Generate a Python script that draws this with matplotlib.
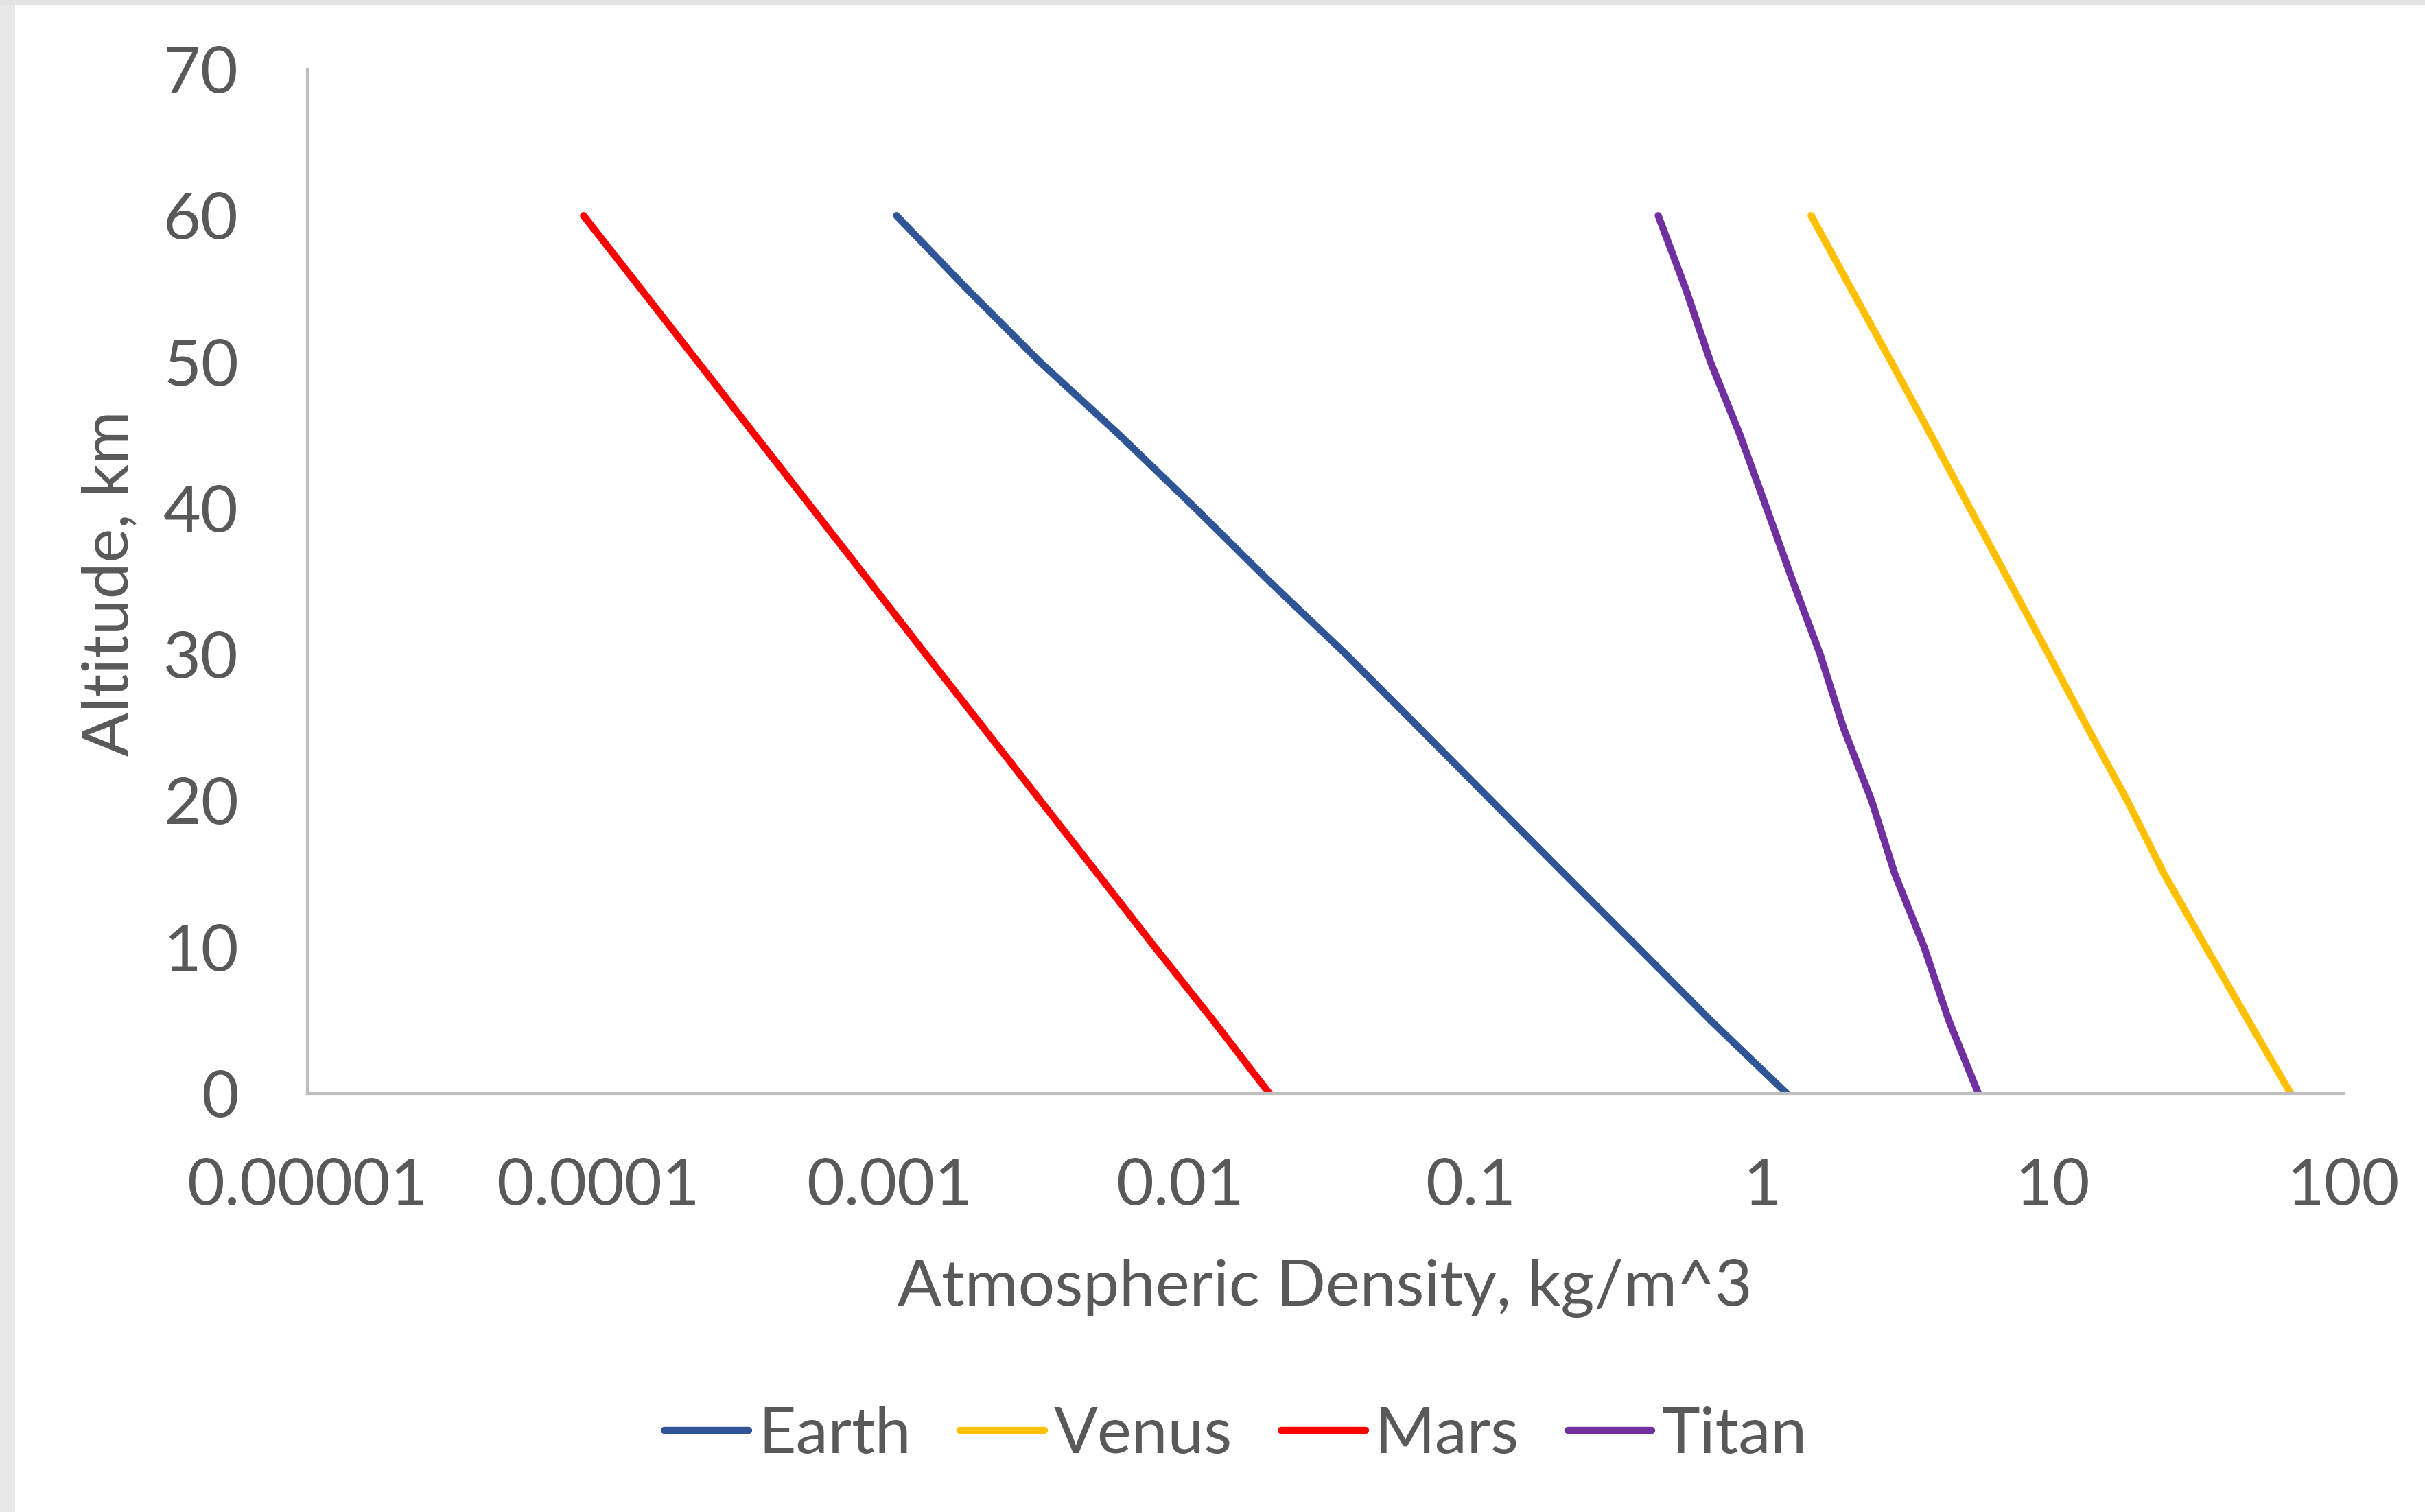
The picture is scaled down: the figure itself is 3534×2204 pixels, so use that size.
import numpy as np
import matplotlib
matplotlib.use('Agg')
import matplotlib.pyplot as plt
from matplotlib.patches import Rectangle

plt.rcParams['font.family'] = ['Lato', 'DejaVu Sans']

# Datos
altitude = [0, 5, 10, 15, 20, 25, 30, 35, 40, 45, 50, 55, 60]
earth = [1.22, 0.667, 0.375, 0.210, 0.118, 0.0664, 0.0373, 0.0203, 0.0113, 0.0062, 0.0033, 0.00185, 0.00106]
venus = [65.9, 47.1, 33.7, 24.2, 18.1, 13.2, 9.7, 7.1, 5.2, 3.82, 2.79, 2.03, 1.48]
mars = [0.0203, 0.0130, 0.0082, 0.00522, 0.00332, 0.00211, 0.00134, 0.000855, 0.000544, 0.000346, 0.000220, 0.000140, 0.000089]
titan = [5.56, 4.40, 3.62, 2.87, 2.39, 1.91, 1.59, 1.28, 1.04, 0.843, 0.667, 0.548, 0.441]

x_ticks = [1e-5, 1e-4, 1e-3, 1e-2, 1e-1, 1, 10, 100]
x_ticklabels = ['0.00001', '0.0001', '0.001', '0.01', '0.1', '1', '10', '100']
y_ticks = [0, 10, 20, 30, 40, 50, 60, 70]

text_col = '#595959'
axis_col = '#BFBFBF'
fs = 68

fig = plt.figure(figsize=(35.34, 22.04), dpi=100)
fig.patch.set_facecolor('white')

# borde gris del fondo (diapositiva)
fig.patches.append(Rectangle((0, 0), 22 / 3534, 1, transform=fig.transFigure,
                             facecolor='#e8e8e8', edgecolor='none', zorder=0))
fig.patches.append(Rectangle((0, 1 - 7 / 2204), 1, 7 / 2204, transform=fig.transFigure,
                             facecolor='#e3e3e3', edgecolor='none', zorder=0))

ax = fig.add_axes([0.12677, 0.27677, 0.83956, 0.67740])

lw = 7.5
ax.plot(earth, altitude, color='#2F5597', lw=lw, label='Earth', solid_capstyle='round', solid_joinstyle='round')
ax.plot(venus, altitude, color='#FFC000', lw=lw, label='Venus', solid_capstyle='round', solid_joinstyle='round')
ax.plot(mars, altitude, color='#FF0000', lw=lw, label='Mars', solid_capstyle='round', solid_joinstyle='round')
ax.plot(titan, altitude, color='#7030A0', lw=lw, label='Titan', solid_capstyle='round', solid_joinstyle='round')

ax.set_xscale('log')
ax.set_xlim(1e-5, 100)
ax.set_ylim(0, 70)
ax.set_xticks(x_ticks)
ax.set_xticklabels(x_ticklabels)
ax.xaxis.set_minor_locator(matplotlib.ticker.NullLocator())
ax.set_yticks(y_ticks)

ax.tick_params(axis='both', length=0, labelsize=fs, labelcolor=text_col)
ax.tick_params(axis='y', pad=72)
ax.tick_params(axis='x', pad=68)

for s in ['top', 'right']:
    ax.spines[s].set_visible(False)
for s in ['left', 'bottom']:
    ax.spines[s].set_color(axis_col)
    ax.spines[s].set_linewidth(3)

fig.text(1931 / 3534, 1 - 1878 / 2204, 'Atmospheric Density, kg/m^3', ha='center', va='center',
         fontsize=fs, color=text_col)
fig.text(160 / 3534, 1 - 850 / 2204, 'Altitude, km', ha='center', va='center', rotation=90,
         fontsize=fs, color=text_col)

fig.legend(loc='center', bbox_to_anchor=(1801 / 3534, 1 - 2092 / 2204), ncol=4, frameon=False,
           fontsize=fs, labelcolor=text_col, handlelength=1.3, handletextpad=0.15, columnspacing=0.75)

fig.savefig('out.png', dpi=100)
